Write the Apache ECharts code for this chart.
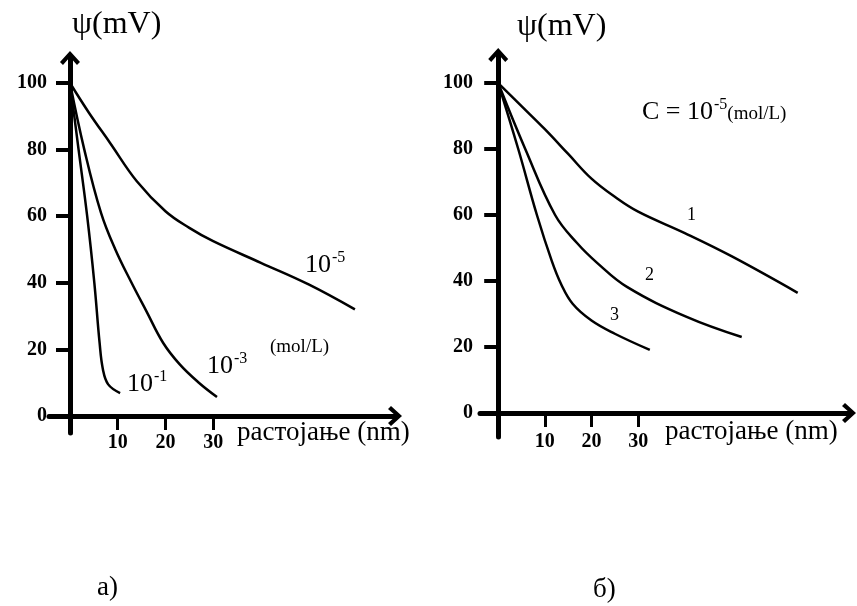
<!DOCTYPE html>
<html>
<head>
<meta charset="utf-8">
<script src="https://cdn.jsdelivr.net/npm/echarts@6/dist/echarts.min.js"></script>
<style>
  html, body { margin: 0; padding: 0; background: #fff; }
  #main { width: 857px; height: 606px; }
</style>
</head>
<body>
<div id="main"></div>
<script type="text/javascript">
// panel а) : potential vs distance for three concentrations
var curveA_5 = [[0, 100], [4, 91], [8.4, 82], [14, 70.5], [20, 61.5], [25, 56.5], [30, 52.5], [40, 46], [50, 39.5], [59.7, 32]];
var curveA_3 = [[0, 100], [3, 80], [6.5, 61], [9.5, 50], [12.9, 40], [16, 31.5], [19.5, 22], [23, 15.5], [27, 10], [30.8, 5.7]];
var curveA_1 = [[0, 100], [1.8, 80], [3.6, 60], [5.1, 40], [6.2, 22], [6.9, 14], [8, 9.5], [10.5, 6.9]];
// panel б) : curves 1, 2, 3 at C = 10^-5
var curveB_1 = [[0, 100], [5, 93], [10, 86], [15, 78.5], [20, 71], [25, 65.5], [30, 61], [40, 54.5], [50, 47.5], [64.2, 36.4]];
var curveB_2 = [[0, 100], [5.8, 80], [12.2, 60], [16.9, 51.5], [21.2, 45.5], [27.6, 38.2], [40.4, 29.1], [52.2, 23]];
var curveB_3 = [[0, 100], [4.3, 80], [8.3, 60], [11.5, 46], [13.5, 39], [16, 33], [20, 28], [25, 24], [32.5, 19.1]];

var xTicks = [10, 20, 30];
var yTicks = [20, 40, 60, 80, 100];
var yLabels = [0, 20, 40, 60, 80, 100];

var serif = 'Liberation Serif';
var arrow = 'path://M0,11 L10,0 L20,11 L17,14 L10,6 L3,14 Z';

function xAxisOf(grid, min, max, margin) {
    return {
        type: 'value', gridIndex: grid, min: min, max: max,
        axisLine: { onZero: true, lineStyle: { color: '#000', width: 5 }, symbol: ['none', arrow], symbolSize: [20, 16] },
        axisTick: { customValues: xTicks, length: 14, lineStyle: { color: '#000', width: 3 } },
        axisLabel: { customValues: xTicks, margin: margin, color: '#000', fontFamily: serif, fontWeight: 'bold', fontSize: 20 },
        splitLine: { show: false }
    };
}
function yAxisOf(grid, min, max, margin) {
    return {
        type: 'value', gridIndex: grid, min: min, max: max,
        axisLine: { onZero: true, lineStyle: { color: '#000', width: 5 }, symbol: ['none', arrow], symbolSize: [20, 16] },
        axisTick: { customValues: yTicks, length: 14, lineStyle: { color: '#000', width: 4 } },
        axisLabel: { customValues: yLabels, margin: margin, color: '#000', fontFamily: serif, fontWeight: 'bold', fontSize: 20 },
        splitLine: { show: false }
    };
}
function curve(data, idx) {
    return {
        type: 'line', data: data, xAxisIndex: idx, yAxisIndex: idx,
        smooth: 0.4, symbol: 'none', clip: false, silent: true,
        lineStyle: { color: '#000', width: 2.5 }
    };
}
function txt(x, y, text, size, extra) {
    var st = {
        text: text, fill: '#000', font: size + 'px "' + serif + '"',
        align: 'left', textAlign: 'left', verticalAlign: 'middle', textVerticalAlign: 'middle'
    };
    if (extra) { for (var k in extra) st[k] = extra[k]; }
    return { type: 'text', x: x, y: y, silent: true, style: st };
}
function pow(x, y, exp, tail) {
    var rich = {
        b: { fontSize: 26, fontFamily: serif, lineHeight: 28, verticalAlign: 'bottom' },
        s: { fontSize: 16, fontFamily: serif, verticalAlign: 'top', padding: [0, 0, 0, 1] },
        t: { fontSize: 19, fontFamily: serif, verticalAlign: 'bottom', padding: [0, 0, 1, 0] }
    };
    return txt(x, y, '{b|' + exp[0] + '}{s|' + exp[1] + '}' + (tail ? '{t|' + tail + '}' : ''), 26, { rich: rich });
}

var chart = echarts.init(document.getElementById('main'));
var option = {
    animation: false,
    grid: [
        { left: 49, top: 58, width: 346, height: 375, outerBoundsMode: 'none', containLabel: false },
        { left: 480, top: 55, width: 369, height: 382, outerBoundsMode: 'none', containLabel: false }
    ],
    xAxis: [xAxisOf(0, -4.4, 68.1, 0), xAxisOf(1, -3.9, 75.2, -5)],
    yAxis: [yAxisOf(0, -5.1, 107.5, 2), yAxisOf(1, -7.3, 108.5, 7)],
    series: [
        curve(curveA_5, 0), curve(curveA_3, 0), curve(curveA_1, 0),
        curve(curveB_1, 1), curve(curveB_2, 1), curve(curveB_3, 1)
    ],
    graphic: [
        txt(72, 25, 'ψ(mV)', 32),
        txt(237, 433, 'растојање (nm)', 27),
        pow(305, 264, ['10', '-5']),
        pow(207, 365, ['10', '-3']),
        pow(127, 383, ['10', '-1']),
        txt(270, 347, '(mol/L)', 19),
        txt(517, 27, 'ψ(mV)', 32),
        txt(665, 432, 'растојање (nm)', 27),
        pow(642, 111, ['C = 10', '-5'], '(mol/L)'),
        txt(687, 215, '1', 18),
        txt(645, 275, '2', 18),
        txt(610, 315, '3', 18),
        txt(97, 588, 'а)', 27),
        txt(593, 590, 'б)', 27)
    ]
};
chart.setOption(option);
</script>
</body>
</html>
